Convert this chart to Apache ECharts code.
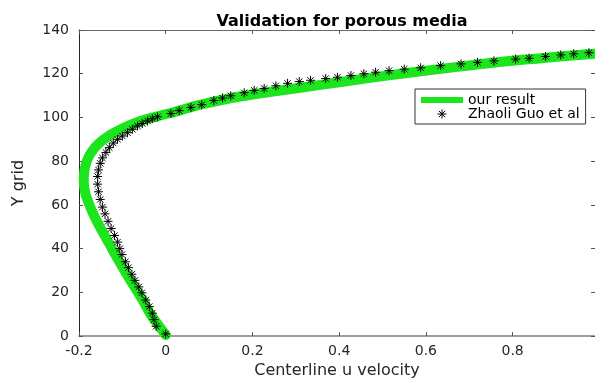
<!DOCTYPE html>
<html>
<head>
<meta charset="utf-8">
<script src="https://cdn.jsdelivr.net/npm/echarts@6/dist/echarts.min.js"></script>
<style>
html,body{margin:0;padding:0;background:#fff;}
#chart{width:595px;height:384px;}
</style>
</head>
<body>
<div id="chart"></div>
<script>
// Green curve ("our result"): centerline u velocity vs Y grid
var oursU = [0.000,-0.017,-0.035,-0.052,-0.064,-0.080,-0.095,-0.110,-0.124,-0.138,-0.152,-0.165,-0.176,-0.185,-0.189,-0.188,-0.182,-0.172,-0.155,-0.128,-0.100,-0.070,-0.040,-0.010,0.020,0.055,0.095,0.155,0.235,0.310,0.396,0.468,0.543,0.625,0.710,0.775,0.860,0.930,0.990,1.010];
var oursY = [0.5,5,10,16,20,25,30,35,40,45,50,55,60,65,70,75,80,84,88,92,95,97.5,99.5,101,102.5,104.5,106.5,109,111.5,113.6,116,118,120,122,124,125.5,127,128.2,129.1,129.4];

// Asterisks ("Zhaoli Guo et al")
var guoU = [0.000,-0.022,-0.027,-0.031,-0.038,-0.046,-0.055,-0.062,-0.071,-0.078,-0.086,-0.093,-0.101,-0.106,-0.111,-0.118,-0.126,-0.133,-0.140,-0.146,-0.151,-0.155,-0.157,-0.157,-0.155,-0.151,-0.146,-0.138,-0.130,-0.121,-0.111,-0.100,-0.088,-0.077,-0.065,-0.054,-0.042,-0.031,-0.019,0.012,0.031,0.058,0.083,0.111,0.131,0.150,0.181,0.204,0.227,0.254,0.281,0.308,0.334,0.369,0.396,0.427,0.457,0.484,0.515,0.550,0.588,0.634,0.681,0.719,0.757,0.807,0.838,0.876,0.911,0.941,0.976];
var guoY = [1.0,4.5,7.5,10.5,13.5,16.5,19.8,22.5,25.5,28.3,31.3,34.0,37.3,40.0,43.0,46.0,49.2,52.5,55.9,59.0,62.5,66.0,69.5,73.0,76.0,79.0,81.5,84.0,86.2,88.3,90.0,91.5,93.0,94.6,96.1,97.2,98.4,99.4,100.3,101.8,103.1,104.6,105.8,107.8,108.9,109.9,111.3,112.4,113.3,114.5,115.6,116.4,117.0,117.8,118.4,119.2,120.0,120.7,121.4,122.1,122.7,123.7,124.5,125.2,125.9,126.7,127.1,127.9,128.6,129.1,129.6];

var xMin = -0.2, xMax = 0.99, xStep = 0.2;
var yMin = 0, yMax = 140, yStep = 20;

var titleText = 'Validation for porous media';
var xName = 'Centerline u velocity';
var yName = 'Y grid';
var seriesNames = ['our result', 'Zhaoli Guo et al'];

var oursData = oursU.map(function (u, i) { return [u, oursY[i]]; });
var guoData = guoU.map(function (u, i) { return [u, guoY[i]]; });

var FONT = 'DejaVu Sans';
var starPath = 'path://M5,0L5,10M0,5L10,5M1.5,1.5L8.5,8.5M1.5,8.5L8.5,1.5';
var green = '#1de51d';

var chart = echarts.init(document.getElementById('chart'), null, {renderer: 'canvas'});
chart.setOption({
  animation: false,
  backgroundColor: '#ffffff',
  title: {
    text: titleText,
    left: 337, top: 9, textAlign: 'center',
    textStyle: {fontFamily: FONT, fontWeight: 'bold', fontSize: 16, color: '#000'}
  },
  grid: {left: 79, right: 0, top: 30, bottom: 41, containLabel: false},
  legend: {
    orient: 'vertical',
    left: 415, top: 89,
    padding: [4, 6, 3, 6],
    itemGap: 0,
    itemWidth: 42, itemHeight: 9,
    borderColor: '#333', borderWidth: 1,
    backgroundColor: '#fff',
    textStyle: {fontFamily: FONT, fontSize: 14, color: '#000', lineHeight: 14},
    data: [
      {name: seriesNames[0], icon: 'path://M0,0H42V6H0Z', itemStyle: {color: green, borderWidth: 0}},
      {name: seriesNames[1], icon: starPath, itemStyle: {color: '#000', borderColor: '#000', borderWidth: 1}}
    ]
  },
  xAxis: [{
    type: 'value', min: xMin, max: xMax, interval: xStep,
    name: xName, nameLocation: 'middle', nameGap: 24,
    nameTextStyle: {fontFamily: FONT, fontSize: 16, color: '#262626'},
    axisLine: {show: true, onZero: false, lineStyle: {color: '#808080', width: 1.5}},
    axisTick: {show: true, inside: true, length: 4, lineStyle: {color: '#555'}},
    axisLabel: {fontFamily: FONT, fontSize: 14, color: '#262626', margin: 8, showMaxLabel: false},
    splitLine: {show: false}
  }, {
    type: 'value', min: xMin, max: xMax, interval: xStep, position: 'top',
    axisLine: {show: true, onZero: false, lineStyle: {color: '#666', width: 1}},
    axisTick: {show: true, inside: true, length: 4, lineStyle: {color: '#555'}},
    axisLabel: {show: false}, splitLine: {show: false}
  }],
  yAxis: [{
    type: 'value', min: yMin, max: yMax, interval: yStep,
    name: yName, nameLocation: 'middle', nameGap: 52,
    nameTextStyle: {fontFamily: FONT, fontSize: 16, color: '#262626'},
    axisLine: {show: true, onZero: false, lineStyle: {color: '#262626', width: 1}},
    axisTick: {show: true, inside: true, length: 4, lineStyle: {color: '#555'}},
    axisLabel: {fontFamily: FONT, fontSize: 14, color: '#262626', margin: 10},
    splitLine: {show: false}
  }, {
    type: 'value', min: yMin, max: yMax, interval: yStep, position: 'right',
    axisLine: {show: true, onZero: false, lineStyle: {color: '#666', width: 1}},
    axisTick: {show: true, inside: true, length: 4, lineStyle: {color: '#555'}},
    axisLabel: {show: false}, splitLine: {show: false}
  }],
  series: [{
    name: seriesNames[0], type: 'line', data: oursData,
    xAxisIndex: 0, yAxisIndex: 0,
    showSymbol: false, symbol: 'none', smooth: 0.3,
    lineStyle: {color: green, width: 10, cap: 'round', join: 'round'},
    itemStyle: {color: green},
    z: 2, clip: true
  }, {
    name: seriesNames[1], type: 'scatter', data: guoData,
    xAxisIndex: 0, yAxisIndex: 0,
    symbol: starPath, symbolSize: 9,
    itemStyle: {color: '#000', borderColor: '#000', borderWidth: 1, opacity: 1},
    z: 3
  }]
});
</script>
</body>
</html>
